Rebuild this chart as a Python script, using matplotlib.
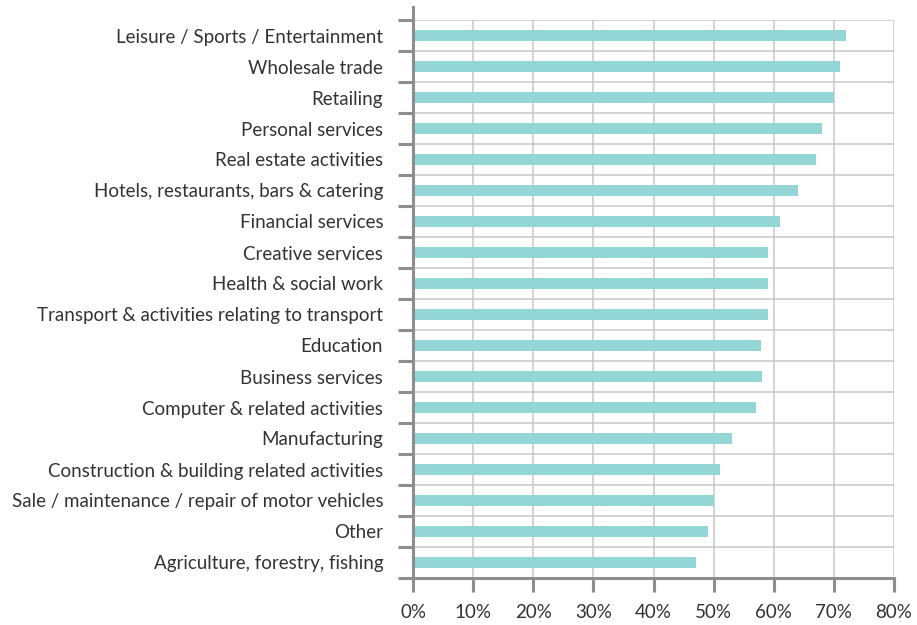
import numpy as np
import matplotlib.pyplot as plt
from matplotlib.ticker import FixedLocator, FuncFormatter

# Sectors, top to bottom
sectors = [
    "Leisure / Sports / Entertainment",
    "Wholesale trade",
    "Retailing",
    "Personal services",
    "Real estate activities",
    "Hotels, restaurants, bars & catering",
    "Financial services",
    "Creative services",
    "Health & social work",
    "Transport & activities relating to transport",
    "Education",
    "Business services",
    "Computer & related activities",
    "Manufacturing",
    "Construction & building related activities",
    "Sale / maintenance / repair of motor vehicles",
    "Other",
    "Agriculture, forestry, fishing",
]
# Share of respondents, in percent
shares = [72, 71, 70, 68, 67, 64, 61, 59, 59, 59, 57.8, 58, 57, 53, 51, 50, 49, 47]
x_ticks = [0, 10, 20, 30, 40, 50, 60, 70, 80]

bar_color = "#94d6d5"
axis_gray = "#8e8e90"
grid_gray = "#c8c8ca"
text_color = "#333333"

plt.rcParams["font.family"] = ["Lato", "DejaVu Sans"]

fig = plt.figure(figsize=(9.17, 6.25), dpi=100)
ax = fig.add_axes([0.4504, 0.0752, 0.5245, 0.8928])

y = np.arange(len(sectors))
ax.barh(y, shares, height=0.345, color=bar_color, zorder=3)

ax.set_xlim(0, 80)
ax.set_ylim(len(sectors) - 0.5, -0.5)

# labels on the bar centres, tick marks on the category boundaries
ax.set_yticks(y)
ax.set_yticklabels(sectors, fontsize=13.5, color=text_color)
ax.yaxis.set_minor_locator(FixedLocator(np.arange(-0.5, len(sectors), 1.0)))
ax.tick_params(axis="y", which="major", length=0, pad=21.5)
ax.tick_params(axis="y", which="minor", length=11, width=2.2, color=axis_gray)

ax.set_xticks(x_ticks)
ax.xaxis.set_major_formatter(FuncFormatter(lambda v, p: f"{v:.0f}%"))
ax.tick_params(axis="x", which="major", length=10, width=2.2, color=axis_gray,
               labelsize=13.5, labelcolor=text_color, pad=9)

ax.grid(True, axis="x", which="major", color=grid_gray, linewidth=1.1, zorder=0)
ax.grid(True, axis="y", which="minor", color=grid_gray, linewidth=1.1, zorder=0)
ax.set_axisbelow(True)

for side in ["top", "right"]:
    ax.spines[side].set_visible(False)
for side in ["left", "bottom"]:
    ax.spines[side].set_color(axis_gray)
    ax.spines[side].set_linewidth(2.2)
    ax.spines[side].set_zorder(4)
ax.spines["left"].set_bounds(len(sectors) - 0.5, -0.92)

fig.savefig("out.png", dpi=100)
